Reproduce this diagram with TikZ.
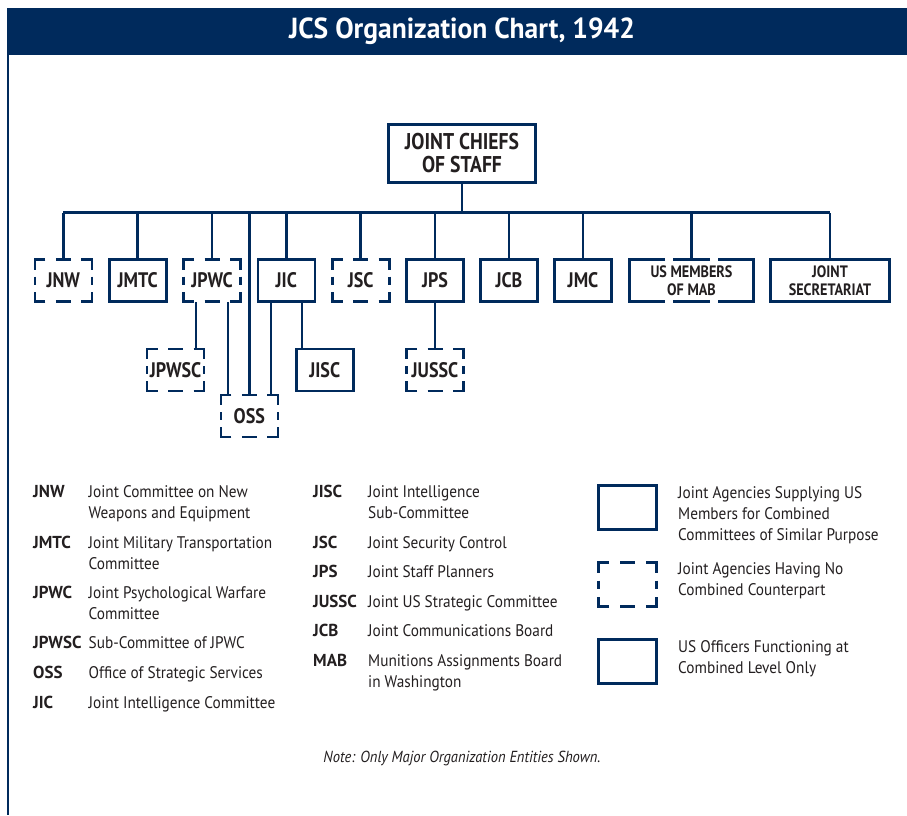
\documentclass[tikz,border=0pt]{standalone}
\usepackage{fontspec}
\setmainfont{PT Sans}[UprightFeatures={FakeStretch=0.91}, BoldFeatures={FakeStretch=0.86}, ItalicFeatures={FakeStretch=0.91}, BoldItalicFeatures={FakeStretch=0.86}]
\newfontfamily\titlefont{PT Sans}[FakeStretch=0.95]
\newfontfamily\abbrfont{PT Sans}[FakeStretch=0.98]
\usetikzlibrary{calc}
\definecolor{navy}{RGB}{0,42,92}
\definecolor{ink}{RGB}{35,31,32}
\newcommand\twol[2]{\vtop{\hbox{#1}\hbox{#2}}}
\newcommand\threel[3]{\vtop{\hbox{#1}\hbox{#2}\hbox{#3}}}
\newcommand\dframe[1]{%
  \draw[navy,line width=2.6pt]
    ($(#1.north west)+(10.5,0)$) -- (#1.north west) -- ($(#1.north west)+(0,10)$)
    ($(#1.north east)+(-10.5,0)$) -- (#1.north east) -- ($(#1.north east)+(0,10)$)
    ($(#1.south west)+(10.5,0)$) -- (#1.south west) -- ($(#1.south west)+(0,-10)$)
    ($(#1.south east)+(-10.5,0)$) -- (#1.south east) -- ($(#1.south east)+(0,-10)$)
    ($(#1.north)+(-7.5,0)$) -- ($(#1.north)+(7.5,0)$)
    ($(#1.south)+(-7.5,0)$) -- ($(#1.south)+(7.5,0)$)
    ($(#1.west)+(0,-4)$) -- ($(#1.west)+(0,4)$)
    ($(#1.east)+(0,-4)$) -- ($(#1.east)+(0,4)$);}
\begin{document}
\begin{tikzpicture}[x=1pt,y=-1pt,
  boxline/.style={draw=navy, line width=2.6pt},
  conn/.style={draw=navy, line width=2.6pt},
  lbl/.style={font=\bfseries\fontsize{21}{22}\selectfont, text=ink, inner sep=0pt, outer sep=0pt, align=center},
  sbox/.style={lbl, boxline, minimum width=57pt, minimum height=42pt},
  dbox/.style={lbl, minimum width=57pt, minimum height=42pt},
  abbr/.style={anchor=base west, inner sep=0pt, text=ink, font=\abbrfont\bfseries\fontsize{17.3}{21}\selectfont},
  desc/.style={anchor=base west, inner sep=0pt, text=ink, font=\fontsize{16.8}{21}\selectfont},
]
\useasboundingbox (0,0) rectangle (907,815);
\fill[white] (0,0) rectangle (907,815);
\fill[navy] (7,8) rectangle (907,55);
\draw[navy, line width=1.5pt] (7.75,55) -- (7.75,815);
\node[text=white, font=\titlefont\bfseries\fontsize{29}{30}\selectfont, inner sep=0pt] (title) at (462,31.5) {JCS Organization Chart, 1942};

% top
\node[lbl, boxline, minimum width=147pt, minimum height=58pt, font=\bfseries\fontsize{22.8}{23}\selectfont] (jcs) at (462,153.5) {JOINT CHIEFS\\OF STAFF};

% first row
\node[dbox] (jnw) at (63.3,280.5) {JNW};
\node[sbox] (jmtc) at (137.7,280.5) {JMTC};
\node[dbox] (jpwc) at (212,280.5) {JPWC};
\node[sbox] (jic) at (286.3,280.5) {JIC};
\node[dbox] (jsc) at (360.7,280.5) {JSC};
\node[sbox] (jps) at (435,280.5) {JPS};
\node[sbox] (jcb) at (509,280.5) {JCB};
\node[sbox] (jmc) at (583,280.5) {JMC};
\node[dbox, minimum width=124pt, font=\bfseries\fontsize{16.5}{18}\selectfont] (mab) at (691.5,280.5) {US MEMBERS\\OF MAB};
\node[sbox, minimum width=119pt, font=\bfseries\fontsize{16.5}{18}\selectfont] (sec) at (830,280.5) {JOINT\\SECRETARIAT};

% second row
\node[dbox] (jpwsc) at (175.5,370) {JPWSC};
\node[sbox] (jisc) at (324.7,370) {JISC};
\node[dbox] (jussc) at (435,370) {JUSSC};
\node[dbox] (oss) at (249.3,416) {OSS};

\dframe{jnw}\dframe{jpwc}\dframe{jsc}\dframe{jpwsc}\dframe{jussc}\dframe{oss}

% MAB broken frame
\draw[boxline] ($(mab.north)+(-26.5,0)$) -- (mab.north west) -- (mab.south west) -- ($(mab.south)+(-26.5,0)$);
\draw[boxline] ($(mab.north)+(26.5,0)$) -- (mab.north east) -- (mab.south east) -- ($(mab.south)+(26.5,0)$);
\draw[boxline] ($(mab.north)+(-18.5,0)$) -- ($(mab.north)+(18.5,0)$);
\draw[boxline] ($(mab.south)+(-18.5,0)$) -- ($(mab.south)+(18.5,0)$);

% bus
\coordinate (bus) at (462,212.5);
\draw[conn] (jcs.south) -- (jcs.south |- bus);
\draw[conn] (jnw.north |- bus) -- (sec.north |- bus);
\foreach \n in {jnw,jmtc,jpwc,jic,jsc,jps,jcb,jmc,mab,sec}
  \draw[conn] (\n.north) -- (\n.north |- bus);
\draw[conn] (oss.north) -- (oss.north |- bus);

% sub connectors
\path ([xshift=20.5pt]jpwsc.north) coordinate (c1);
\draw[conn] (c1) -- (c1 |- jpwc.south);
\path ([xshift=-21.3pt]oss.north) coordinate (c2);
\draw[conn] (c2) -- (c2 |- jpwc.south);
\path ([xshift=21.7pt]oss.north) coordinate (c3);
\draw[conn] (c3) -- (c3 |- jic.south);
\path ([xshift=-22.7pt]jisc.north) coordinate (c4);
\draw[conn] (c4) -- (c4 |- jic.south);
\draw[conn] (jussc.north) -- (jps.south);

% legend column 1
\node[abbr] (a1) at (33,497) {JNW};
\node[desc] (d1) at (88.5,497) {\twol{Joint Committee on New}{Weapons and Equipment}};
\node[abbr] (a2) at (33,548) {JMTC};
\node[desc] (d2) at (88.5,548) {\twol{Joint Military Transportation}{Committee}};
\node[abbr] (a3) at (33,598) {JPWC};
\node[desc] (d3) at (88.5,598) {\twol{Joint Psychological Warfare}{Committee}};
\node[abbr] (a4) at (33,648) {JPWSC};
\node[desc] (d4) at (88.5,648) {Sub-Committee of JPWC};
\node[abbr] (a5) at (33,678) {OSS};
\node[desc] (d5) at (88.5,678) {Office of Strategic Services};
\node[abbr] (a6) at (33,708) {JIC};
\node[desc] (d6) at (88.5,708) {Joint Intelligence Committee};

% legend column 2
\node[abbr] (b1) at (313,497) {JISC};
\node[desc] (e1) at (368,497) {\twol{Joint Intelligence}{Sub-Committee}};
\node[abbr] (b2) at (313,548) {JSC};
\node[desc] (e2) at (368,548) {Joint Security Control};
\node[abbr] (b3) at (313,577) {JPS};
\node[desc] (e3) at (368,577) {Joint Staff Planners};
\node[abbr] (b4) at (313,607) {JUSSC};
\node[desc] (e4) at (368,607) {Joint US Strategic Committee};
\node[abbr] (b5) at (313,636) {JCB};
\node[desc] (e5) at (368,636) {Joint Communications Board};
\node[abbr] (b6) at (313,666) {MAB};
\node[desc] (e6) at (368,666) {\twol{Munitions Assignments Board}{in Washington}};

% legend symbols
\node[sbox, minimum width=58pt, minimum height=44pt] (k1) at (627.5,507.5) {};
\node[desc] (t1) at (678,498) {\threel{Joint Agencies Supplying US}{Members for Combined}{Committees of Similar Purpose}};
\node[dbox, minimum width=58pt, minimum height=44pt] (k2) at (627.5,584.5) {};
\dframe{k2}
\node[desc] (t2) at (678,574) {\twol{Joint Agencies Having No}{Combined Counterpart}};
\node[sbox, minimum width=58pt, minimum height=44pt] (k3) at (627.5,661.5) {};
\node[desc] (t3) at (678,652) {\twol{US Officers Functioning at}{Combined Level Only}};

% note
\node[text=ink, inner sep=0pt, font=\itshape\fontsize{16}{18}\selectfont] (note) at (462,758) {Note: Only Major Organization Entities Shown.};
\end{tikzpicture}
\end{document}
